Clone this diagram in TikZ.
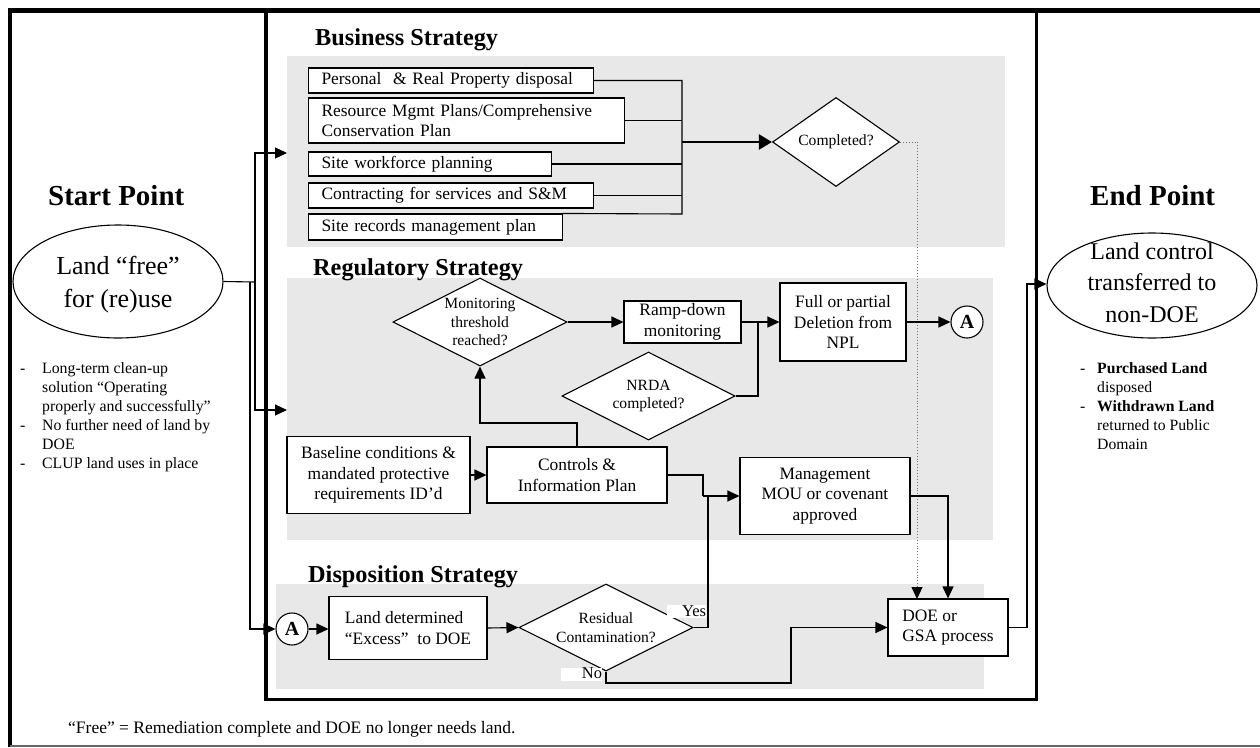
\documentclass[tikz,border=0pt]{standalone}
\usepackage{fontspec}
\setmainfont{Liberation Serif}
\usetikzlibrary{arrows.meta,shapes.geometric}
\newcommand{\fsz}[2]{\fontsize{#1}{#2}\selectfont}

\begin{document}
\begin{tikzpicture}[x=1pt,y=-1pt,
  every node/.style={inner sep=0pt},
  panel/.style={fill=black!9,draw=none},
  ttl/.style={anchor=base west,font=\fsz{24.3}{28}\bfseries},
  bigttl/.style={anchor=base west,font=\fsz{29}{34}\bfseries},
  bbox/.style={draw,fill=white,line width=1.1pt,anchor=west,align=left,inner xsep=13pt,font=\fsz{17.4}{20}},
  rbox/.style={draw,fill=white,line width=1.1pt,align=center,font=\fsz{17.4}{20.5}},
  dia/.style={draw,fill=white,diamond,line width=1.1pt},
  dtext/.style={align=center,font=\fsz{15.6}{18.7}},
  ell/.style={draw,fill=white,ellipse,line width=1.1pt},
  conn/.style={circle,draw,fill=white,line width=1.1pt,minimum size=32pt,font=\fsz{20}{24}\bfseries},
  wire/.style={line width=1.1pt},
  arr/.style={wire,-{Triangle[length=12pt,width=11pt]}},
  bigarr/.style={line width=2.3pt,-{Triangle[length=13pt,width=15pt]}},
  dotarr/.style={draw=black!55,line width=0.9pt,dotted,-{Triangle[length=12pt,width=11pt,color=black]}},
  tag/.style={fill=white,align=right,text height=11pt,text depth=2pt,font=\fsz{16.5}{18}},
  notes/.style={anchor=base west,font=\fsz{15.8}{19}}
]
\useasboundingbox (0,0) rectangle (1260,747);

% strategy panels
\fill[panel] (287,56) rectangle (1005,247);
\fill[panel] (287,278) rectangle (993,540);
\fill[panel] (276,584) rectangle (984,689);

% outer frame and central strategy frame
\draw[line width=4.5pt] (10,747) -- (10,10.5) -- (1260,10.5);
\draw[black!60,line width=1.5pt] (10,746) -- (1260,746);
\draw[line width=3.5pt] (266,10.5) rectangle (1036.5,699.5);

% section titles
\node[ttl] (tbiz) at (315,45) {Business Strategy};
\node[ttl] (treg) at (313,275) {Regulatory Strategy};
\node[ttl] (tdis) at (308,582) {Disposition Strategy};
\node[bigttl] (tstart) at (48,205) {Start Point};
\node[bigttl] (tend) at (1090,205) {End Point};

% start and end points
\node[ell,minimum width=210pt,minimum height=113pt,
  label={[align=center,yshift=-3pt,font=\fsz{26}{33}]center:{Land “free”\\for (re)use}}] (start) at (118,281.5) {};
\node[ell,minimum width=210pt,minimum height=105pt,
  label={[align=center,yshift=3pt,font=\fsz{24}{31.5}]center:{Land control\\transferred to\\non-DOE}}] (end) at (1152,285.5) {};

\node[notes] (lnotes) at (20,373) {\begin{tabular}[t]{@{}p{22pt}@{}l@{}}
-& Long-term clean-up\\
 & solution “Operating\\
 & properly and successfully”\\
-& No further need of land by\\
 & DOE\\
-& CLUP land uses in place
\end{tabular}};
\node[notes,font=\fsz{15.7}{19}] (rnotes) at (1080,373) {\begin{tabular}[t]{@{}p{17pt}@{}l@{}}
-& \textbf{Purchased Land}\\
 & disposed\\
-& \textbf{Withdrawn Land}\\
 & returned to Public\\
 & Domain
\end{tabular}};

\node[anchor=base west,font=\fsz{17.5}{20}] (foot) at (68,733) {“Free” = Remediation complete and DOE no longer needs land.};

% business strategy
\node[bbox,text width=259pt,minimum height=25pt] (b1) at (308,80.5) {Personal\ \ \& Real Property disposal};
\node[bbox,text width=290pt,minimum height=45pt] (b2) at (308,120.5) {Resource Mgmt Plans/Comprehensive\\Conservation Plan};
\node[bbox,text width=217pt,minimum height=24pt] (b3) at (308,164) {Site workforce planning};
\node[bbox,text width=259pt,minimum height=25pt] (b4) at (308,195.5) {Contracting for services and S\&M};
\node[bbox,text width=228pt,minimum height=26pt] (b5) at (308,227) {Site records management plan};
\node[dia,minimum width=127pt,minimum height=89pt,
  label={[dtext]center:Completed?}] (comp) at (836,142) {};

% regulatory strategy
\node[dia,minimum width=174pt,minimum height=88pt,
  label={[dtext]center:{Monitoring\\threshold\\reached?}}] (mon) at (480,322) {};
\node[rbox,minimum width=117pt,minimum height=42pt] (ramp) at (682.5,322) {Ramp-down\\monitoring};
\node[rbox,minimum width=126pt,minimum height=78pt] (npl) at (843,322) {Full or partial\\Deletion from\\NPL};
\node[conn] (a1) at (967,322) {A};
\node[dia,minimum width=173pt,minimum height=88pt,
  label={[dtext]center:{NRDA\\completed?}}] (nrda) at (648.5,396) {};
\node[rbox,minimum width=183pt,minimum height=77pt] (base) at (378.5,475) {Baseline conditions \&\\mandated protective\\requirements ID’d};
\node[rbox,minimum width=180pt,minimum height=56pt] (ctrl) at (577,475) {Controls \&\\Information Plan};
\node[rbox,minimum width=170pt,minimum height=77pt] (mgmt) at (825,496) {Management\\MOU or covenant\\approved};

% disposition strategy
\node[conn] (a2) at (292,629) {A};
\node[rbox,align=left,minimum width=158pt,minimum height=63pt] (land) at (408,628) {Land determined\\“Excess”\ \ to DOE};
\node[rbox,align=left,minimum width=120pt,minimum height=57pt] (doe) at (948,627.5) {DOE or\\GSA process};
\node[dia,minimum width=174pt,minimum height=87pt,
  label={[dtext]center:{Residual\\Contamination?}}] (resid) at (606,627.5) {};
\node[tag,text width=39pt] (yes) at (686.5,611.5) {Yes};
\node[tag,text width=41pt] (no) at (581.5,674) {No\hspace*{7pt}};

% routing points
\coordinate (j1) at (255,282);
\coordinate (j2) at (250,282);
\coordinate (bizin) at (287,153);
\coordinate (regin) at (287,410);
\coordinate (bt) at (682,80.5);
\coordinate (bb) at (682,214);
\coordinate (m1) at (758,322);
\coordinate (c1) at (577,423);
\coordinate (k1) at (703,496);
\coordinate (k2) at (708,496);
\coordinate (n1) at (606,683);
\coordinate (n2) at (791,627.5);
\coordinate (dtop) at (917,599);
\coordinate (e1) at (1027,284);

% start point fan-out
\draw[wire] (start.east) -- (j1);
\draw[arr] (j1) |- (bizin);
\draw[arr] (j1) |- (regin);
\draw[arr] (j2) |- (a2.west);

% business flow
\draw[wire] (b1.east) -- (bt) -- (bb) -- (b5.north east);
\draw[wire] (b2.east) -- (b2.east -| bt);
\draw[wire] (b3.east) -- (b3.east -| bt);
\draw[wire] (b4.east) -- (b4.east -| bt);
\draw[bigarr] (bt |- comp.west) -- (comp.west);
\draw[dotarr] (comp.east) -| (dtop);

% regulatory flow
\draw[arr] (mon.east) -- (ramp.west);
\draw[arr] (ramp.east) -- (npl.west);
\draw[wire] (nrda.east) -| (m1);
\draw[arr] (npl.east) -- (a1.west);
\draw[arr] (base.east) -- (ctrl.west);
\draw[arr] (ctrl.north) -- (c1) -| (mon.south);
\draw[wire] (ctrl.east) -| (k1);
\draw[arr] (k1) -- (mgmt.west);
\draw[wire] (resid.east) -| (k2);
\draw[arr] (mgmt.east) -| (doe.north);

% disposition flow
\draw[arr] (a2.east) -- (land.west |- a2.east);
\draw[arr] (land.east) -- (resid.west);
\draw[arr] (resid.south) -- (n1) -| (n2) -- (doe.west);
\draw[arr] (doe.east) -| (e1) -- (e1 -| end.west);

\end{tikzpicture}
\end{document}
